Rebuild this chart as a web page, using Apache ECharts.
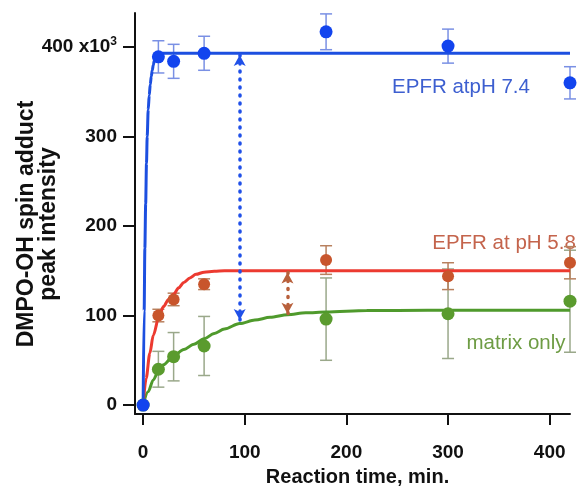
<!DOCTYPE html>
<html>
<head>
<meta charset="utf-8">
<script src="https://cdn.jsdelivr.net/npm/echarts@6/dist/echarts.min.js"></script>
<style>html,body{margin:0;padding:0;background:#fff}#c{width:582px;height:487px}</style>
</head>
<body>
<div id="c"></div>
<script>
// ---- data ----
var xTicks = [0, 100, 200, 300, 400];
var yTicks = [0, 100, 200, 300, 400];

var timesMeas = [0, 15, 30, 60, 180, 300, 420];
var blueVals  = [0, 389, 384, 393, 417, 401, 360];
var blueErr   = [0, 18, 19, 19, 20, 19, 18];
var redVals   = [0, 100, 118, 135, 162, 144, 159];
var redErr    = [0, 7, 7, 6, 16, 15, 18];
var greenVals = [0, 40, 54, 66, 96, 102, 116];
var greenErr  = [0, 20, 27, 33, 46, 50, 57];

// fitted curves
var blueFitT = [0, 1, 1.7, 2.5, 3.3, 4, 5, 6, 7, 8, 9, 10, 11, 12, 13, 14, 16, 19, 24, 420];
var blueFitV = [0, 105, 175, 225, 270, 300, 330, 346, 358, 367, 374, 380, 385, 388, 390, 391, 392.5, 393, 393, 393];
var redFitT  = [0, 3, 6.6, 10, 15.8, 20, 25, 30, 35, 40, 46, 52, 60, 70, 80, 100, 420];
var redFitV  = [0, 30, 58, 78, 100, 110, 118, 124, 131, 137, 142, 146, 148.5, 149.5, 150, 150, 150];
var greenFitT = [0, 5, 10, 15, 20, 30, 40, 50, 60, 70, 80, 95, 110, 125, 142, 160, 180, 220, 280, 420];
var greenFitV = [0, 15, 28, 38, 45, 55, 62, 68, 74, 80, 85, 91, 95, 98, 101, 103, 104, 105.5, 106, 106];

// difference arrows [x, from, to]
var blueArrow = [95, 391, 95];
var redArrow  = [142, 148, 102];

function zip(a, b) { return a.map(function (v, i) { return [v, b[i]]; }); }
function errData(t, v, e) {
  var out = [];
  for (var i = 0; i < t.length; i++) if (e[i] > 0) out.push([t[i], v[i] - e[i], v[i] + e[i]]);
  return out;
}
function errSeries(data, color) {
  return {
    type: 'custom', data: data, z: 1, clip: false,
    renderItem: function (params, api) {
      var x = api.value(0), lo = api.value(1), hi = api.value(2);
      var p1 = api.coord([x, hi]), p2 = api.coord([x, lo]);
      var w = 6;
      var st = { stroke: color, lineWidth: 1.5 };
      return { type: 'group', children: [
        { type: 'line', shape: { x1: p1[0], y1: p1[1], x2: p2[0], y2: p2[1] }, style: st },
        { type: 'line', shape: { x1: p1[0] - w, y1: p1[1], x2: p1[0] + w, y2: p1[1] }, style: st },
        { type: 'line', shape: { x1: p2[0] - w, y1: p2[1], x2: p2[0] + w, y2: p2[1] }, style: st }
      ]};
    }
  };
}
function fitSeries(t, v, color) {
  return { type: 'line', data: zip(t, v), showSymbol: false, symbol: 'none', smooth: 0.3, smoothMonotone: 'x',
    lineStyle: { color: color, width: 3 }, z: 2, silent: true };
}
function ptSeries(t, v, color, size) {
  return { type: 'scatter', data: zip(t, v), symbolSize: size, itemStyle: { color: color, opacity: 1 }, z: 3 };
}
function arrowSeries(a, color) {
  return { type: 'line', data: [], z: 4,
    markLine: { silent: true, symbol: ['arrow', 'arrow'], symbolSize: [9, 11], label: { show: false },
      lineStyle: { color: color, width: 3.5, type: [1, 7], cap: 'round' },
      data: [[{ coord: [a[0], a[1]] }, { coord: [a[0], a[2]] }]] } };
}

var chart = echarts.init(document.getElementById('c'));
var axisFont = { fontFamily: 'Liberation Sans, Arial, sans-serif', fontWeight: 'bold', fontSize: 19, color: '#111' };
chart.setOption({
  animation: false,
  grid: { left: 135, right: 12, top: 13, bottom: 73, containLabel: false, outerBoundsMode: 'none' },
  xAxis: {
    type: 'value', min: -8, max: 420,
    axisLine: { onZero: false, lineStyle: { color: '#111', width: 2 } },
    axisTick: { show: true, length: 11, lineStyle: { color: '#111', width: 2 }, customValues: xTicks },
    axisLabel: Object.assign({ margin: 29, customValues: xTicks }, axisFont),
    splitLine: { show: false },
    name: 'Reaction time, min.', nameLocation: 'middle', nameGap: 53,
    nameTextStyle: { fontFamily: 'Liberation Sans, Arial, sans-serif', fontWeight: 'bold', fontSize: 20, color: '#111', padding: [0, 0, 0, 10] }
  },
  yAxis: {
    type: 'value', min: -10, max: 438,
    axisLine: { onZero: false, show: true, lineStyle: { color: '#111', width: 2 } },
    axisTick: { show: true, length: 12, lineStyle: { color: '#111', width: 2 }, customValues: yTicks },
    axisLabel: Object.assign({ margin: 18, customValues: yTicks,
      formatter: function (v) { return v === 400 ? '400 x10{sup|3}' : String(v); },
      rich: { sup: { fontSize: 12, fontWeight: 'bold', verticalAlign: 'top', padding: [0, 0, 10, 0], fontFamily: 'Liberation Sans, Arial, sans-serif', color: '#111' } }
    }, axisFont),
    splitLine: { show: false }
  },
  graphic: [
    { type: 'text', x: 38, y: 224, rotation: Math.PI / 2,
      style: { text: 'DMPO-OH spin adduct\npeak intensity', align: 'center', verticalAlign: 'middle', lineHeight: 22,
        font: 'bold 23px Liberation Sans, Arial, sans-serif', fill: '#111' } },
    { type: 'text', x: 461, y: 87, style: { text: 'EPFR atpH 7.4', align: 'center', verticalAlign: 'middle',
        font: '20.5px Liberation Sans, Arial, sans-serif', fill: '#3d5fd0' } },
    { type: 'text', x: 504, y: 243, style: { text: 'EPFR at pH 5.8', align: 'center', verticalAlign: 'middle',
        font: '20.5px Liberation Sans, Arial, sans-serif', fill: '#c4644c' } },
    { type: 'text', x: 516, y: 343, style: { text: 'matrix only', align: 'center', verticalAlign: 'middle',
        font: '20.5px Liberation Sans, Arial, sans-serif', fill: '#6e9c44' } }
  ],
  series: [
    errSeries(errData(timesMeas, greenVals, greenErr), '#9aa88a'),
    errSeries(errData(timesMeas, redVals, redErr), '#b8805e'),
    errSeries(errData(timesMeas, blueVals, blueErr), '#7a90e4'),
    fitSeries(greenFitT, greenFitV, '#4f9a2c'),
    fitSeries(redFitT, redFitV, '#ec3a30'),
    fitSeries(blueFitT, blueFitV, '#1c4fe0'),
    ptSeries(timesMeas, greenVals, '#5a9b2e', 13),
    ptSeries(timesMeas, redVals, '#c8552c', 12),
    ptSeries(timesMeas, blueVals, '#1244ee', 13),
    arrowSeries(blueArrow, '#2050e8'),
    arrowSeries(redArrow, '#b8603c')
  ]
});
</script>
</body>
</html>
